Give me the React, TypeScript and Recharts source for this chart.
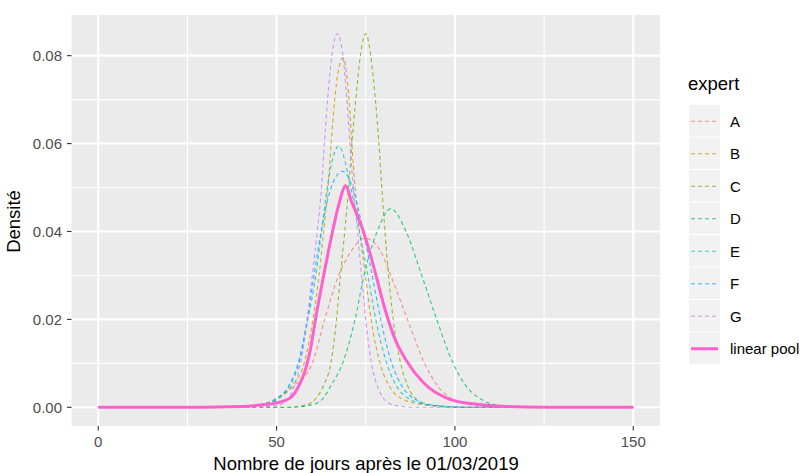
import React from "react";
import { LineChart, Line, XAxis, YAxis, CartesianGrid } from "recharts";

// expert names + ggplot hue colours
const experts = ["A", "B", "C", "D", "E", "F", "G"];
const poolName = "linear pool";
const colors = ["#F8766D", "#CD9600", "#7CAE00", "#00BE67", "#00BFC4", "#00A9FF", "#C77CFF"];
const poolColor = "#FF61CC";

// axis ticks
const xTicks = [0, 50, 100, 150];
const xMinor = [25, 75, 125];
const yTicks = [0, 0.02, 0.04, 0.06, 0.08];
const yMinor = [0.01, 0.03, 0.05, 0.07];

// densities (days after 01/03/2019 -> density)
const daysA = [0, 35, 44, 50, 55, 60, 63.5, 67.4, 70.5, 74.8, 79.5, 82, 86.7, 91.5, 95, 99, 105, 115, 150];
const densA = [0, 0, 0.0005, 0.002, 0.005, 0.01, 0.02, 0.03, 0.035, 0.0385, 0.035, 0.03, 0.02, 0.01, 0.005, 0.002, 0.0005, 0, 0];

const daysB = [0, 40, 46, 50.5, 54.5, 57.7, 60.2, 61.9, 63.2, 64.4, 65.3, 66.3, 68.6, 70.3, 71.1, 72.0, 73.3, 74.9, 76.5, 79, 81.5, 85, 92, 102, 150];
const densB = [0, 0, 0.0005, 0.002, 0.005, 0.01, 0.02, 0.03, 0.04, 0.05, 0.06, 0.07, 0.0795, 0.07, 0.06, 0.05, 0.04, 0.03, 0.02, 0.01, 0.005, 0.002, 0.0005, 0, 0];

const daysC = [0, 52, 58, 61, 63.2, 65.2, 66.8, 67.9, 69.1, 70.2, 71.1, 72.2, 73.5, 75, 76.4, 77.7, 78.7, 79.5, 80.4, 81.4, 82.7, 84.8, 86.7, 89, 93, 100, 150];
const densC = [0, 0, 0.0005, 0.002, 0.005, 0.01, 0.02, 0.03, 0.04, 0.05, 0.06, 0.07, 0.08, 0.085, 0.08, 0.07, 0.06, 0.05, 0.04, 0.03, 0.02, 0.01, 0.005, 0.002, 0.0005, 0, 0];

const daysD = [0, 54, 59.5, 63, 65.3, 68.5, 72, 74.5, 78.2, 82, 86.3, 90.7, 94.9, 99.5, 103, 107, 112, 120, 150];
const densD = [0, 0, 0.0005, 0.002, 0.005, 0.01, 0.02, 0.03, 0.04, 0.0452, 0.04, 0.03, 0.02, 0.01, 0.005, 0.002, 0.0005, 0, 0];

const daysE = [0, 40, 46, 50.5, 53.8, 56.3, 58.8, 61.0, 62.6, 64.2, 67.4, 70.8, 73.2, 75.6, 77.8, 80.9, 83.5, 87, 93, 105, 150];
const densE = [0, 0, 0.0005, 0.002, 0.005, 0.01, 0.02, 0.03, 0.04, 0.05, 0.0594, 0.05, 0.04, 0.03, 0.02, 0.01, 0.005, 0.002, 0.0005, 0, 0];

const daysF = [0, 38, 45, 50, 53.5, 56, 58.6, 60.5, 62.5, 65.3, 68.5, 71.3, 74.3, 76.8, 79.2, 82.3, 85, 88.5, 94, 105, 150];
const densF = [0, 0, 0.0005, 0.002, 0.005, 0.01, 0.02, 0.03, 0.04, 0.05, 0.0537, 0.05, 0.04, 0.03, 0.02, 0.01, 0.005, 0.002, 0.0005, 0, 0];

const daysG = [0, 44, 50.5, 53.3, 55.0, 56.7, 58.6, 60.0, 61.4, 62.6, 63.4, 64.3, 65.5, 67, 68.6, 69.7, 70.6, 71.5, 72.7, 73.8, 75.0, 76.6, 78.2, 80, 83, 88, 150];
const densG = [0, 0, 0.0005, 0.002, 0.005, 0.01, 0.02, 0.03, 0.04, 0.05, 0.06, 0.07, 0.08, 0.085, 0.08, 0.07, 0.06, 0.05, 0.04, 0.03, 0.02, 0.01, 0.005, 0.002, 0.0005, 0, 0];

const daysPool = [0, 20, 40, 45, 49.3, 53.9, 56.2, 58.1, 59.5, 60.9, 63.2, 65.7, 67.4, 69.4, 71, 72, 74, 76, 78, 80.4, 83.2, 86.5, 91.2, 98.6, 105, 111.6, 125, 150];
const densPool = [0, 0, 0.0002, 0.0005, 0.0009, 0.0022, 0.0048, 0.0086, 0.0132, 0.02, 0.03, 0.04, 0.046, 0.0504, 0.0468, 0.0449, 0.0408, 0.0356, 0.0296, 0.0223, 0.0155, 0.0105, 0.0056, 0.0018, 0.0008, 0.0003, 0, 0];

const expertDays = [daysA, daysB, daysC, daysD, daysE, daysF, daysG];
const expertDens = [densA, densB, densC, densD, densE, densF, densG];

const toPts = (xs: number[], ys: number[]) => xs.map((x, i) => ({ x, y: ys[i] }));

const font = '"Liberation Sans", Arial, Helvetica, sans-serif';
const W = 802;
const H = 473;

export default function App() {
  const series = expertDays.map((xs, i) => toPts(xs, expertDens[i]));
  const pool = toPts(daysPool, densPool);

  const keyTop = 105;
  const keyStep = 32.5;
  const labels = [...experts, poolName];

  return (
    <div style={{ position: "absolute", left: 0, top: 0, width: W, height: H, background: "#fff", fontFamily: font }}>
      <LineChart width={W} height={H} margin={{ top: 15, right: 142, bottom: 17, left: 0 }}>
        {/* panel + minor grid */}
        <CartesianGrid
          fill="#EBEBEB"
          stroke="#FFFFFF"
          strokeWidth={1.1}
          horizontalValues={yMinor}
          verticalValues={xMinor}
        />
        {/* major grid */}
        <CartesianGrid stroke="#FFFFFF" strokeWidth={2.1} horizontalValues={yTicks} verticalValues={xTicks} />

        <XAxis
          dataKey="x"
          type="number"
          domain={[-7.5, 157.5]}
          ticks={xTicks}
          allowDataOverflow
          height={30}
          axisLine={false}
          tickSize={4.5}
          tickMargin={6}
          tickLine={{ stroke: "#333333", strokeWidth: 1.1 }}
          tick={{ fill: "#4D4D4D", fontSize: 15, fontFamily: font }}
        />
        <YAxis
          type="number"
          domain={[-0.00425, 0.08925]}
          ticks={yTicks}
          allowDataOverflow
          width={71.5}
          axisLine={false}
          tickSize={4.5}
          tickMargin={5}
          tickLine={{ stroke: "#333333", strokeWidth: 1.1 }}
          tick={{ fill: "#4D4D4D", fontSize: 15, fontFamily: font }}
          tickFormatter={(v: number) => v.toFixed(2)}
        />

        {series.map((d, i) => (
          <Line
            key={experts[i]}
            data={d}
            dataKey="y"
            name={experts[i]}
            type="monotone"
            stroke={colors[i]}
            strokeOpacity={0.8}
            strokeWidth={1.1}
            strokeDasharray="4 3"
            dot={false}
            activeDot={false}
            isAnimationActive={false}
          />
        ))}
        <Line
          data={pool}
          dataKey="y"
          name={poolName}
          type="monotone"
          stroke={poolColor}
          strokeWidth={3}
          dot={false}
          activeDot={false}
          isAnimationActive={false}
        />
      </LineChart>

      {/* axis titles + legend */}
      <svg width={W} height={H} style={{ position: "absolute", left: 0, top: 0, pointerEvents: "none" }}>
        <text x={366} y={470} textAnchor="middle" fontSize={18.5} fill="#000" fontFamily={font}>
          Nombre de jours après le 01/03/2019
        </text>
        <text transform="translate(20,221.5) rotate(-90)" textAnchor="middle" fontSize={18.5} fill="#000" fontFamily={font}>
          Densité
        </text>

        <text x={688} y={90} fontSize={18.5} fill="#000" fontFamily={font}>
          expert
        </text>
        {labels.map((lab, i) => {
          const top = keyTop + i * keyStep;
          const cy = top + keyStep / 2;
          const isPool = i === labels.length - 1;
          return (
            <g key={lab}>
              <rect x={689} y={top} width={31} height={keyStep - 1} fill="#F2F2F2" />
              <line
                x1={691}
                x2={718}
                y1={cy}
                y2={cy}
                stroke={isPool ? poolColor : colors[i]}
                strokeOpacity={isPool ? 1 : 0.8}
                strokeWidth={isPool ? 3 : 1.1}
                strokeDasharray={isPool ? undefined : "4 3"}
              />
              <text x={730} y={cy + 5.3} fontSize={15} fill="#000" fontFamily={font}>
                {lab}
              </text>
            </g>
          );
        })}
      </svg>
    </div>
  );
}
